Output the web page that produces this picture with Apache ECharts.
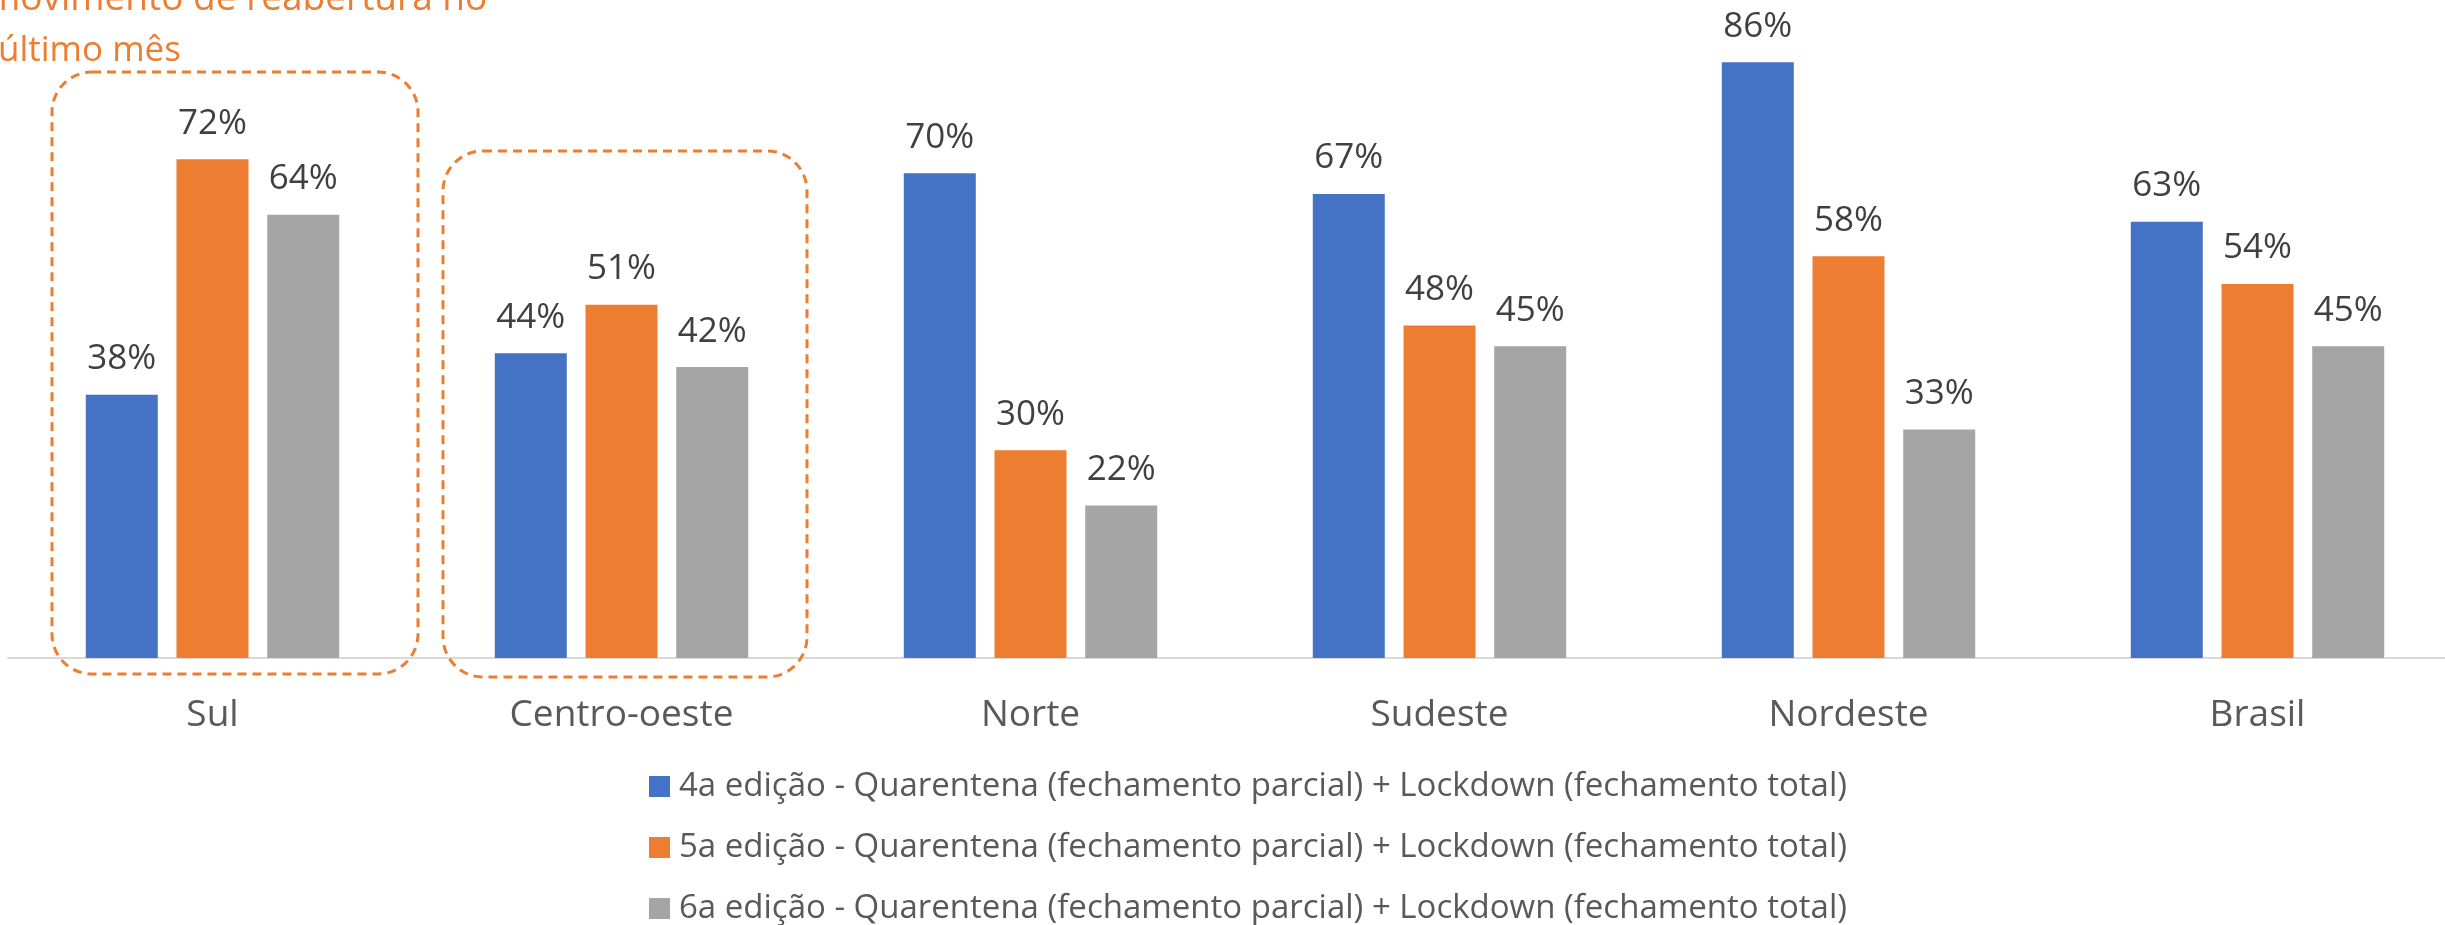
<!DOCTYPE html>
<html>
<head>
<meta charset="utf-8">
<script src="https://cdn.jsdelivr.net/npm/echarts@6/dist/echarts.min.js"></script>
<style>
	html, body { margin: 0; padding: 0; background: #fff; overflow: hidden; }
	#chart { width: 2462px; height: 925px; }
</style>
</head>
<body>
<div id="chart"></div>
<script>
const categories = ['Sul', 'Centro-oeste', 'Norte', 'Sudeste', 'Nordeste', 'Brasil']
const seriesNames = [
	'4a edição - Quarentena (fechamento parcial) + Lockdown (fechamento total)',
	'5a edição - Quarentena (fechamento parcial) + Lockdown (fechamento total)',
	'6a edição - Quarentena (fechamento parcial) + Lockdown (fechamento total)',
]
const edicao4 = [38, 44, 70, 67, 86, 63]
const edicao5 = [72, 51, 30, 48, 58, 54]
const edicao6 = [64, 42, 22, 45, 33, 45]
const colors = ['#4472C4', '#ED7D31', '#A5A5A5']

const FONT = "'Open Sans', sans-serif"

drawChart = () => {
	var chart = echarts.init(document.getElementById('chart'))

	// one bar series per edition
	const series = [edicao4, edicao5, edicao6].map((values, i) => {
		return {
			name: seriesNames[i],
			type: 'bar',
			data: values,
			barWidth: 72,
			barGap: '26%',
			itemStyle: { color: colors[i] },
			label: {
				show: true,
				position: 'top',
				distance: 18,
				formatter: '{c}%',
				color: '#404040',
				fontSize: 35,
				fontFamily: FONT,
			},
		}
	})

	// dashed boxes around Sul and Centro-oeste
	const box = (x, y, w, h) => {
		return {
			type: 'rect',
			z: 10,
			shape: { x: x, y: y, width: w, height: h, r: 40 },
			style: { fill: 'none', stroke: '#ED7D31', lineWidth: 3, lineDash: [9, 6] },
		}
	}

	const option = {
		animation: false,
		backgroundColor: '#fff',
		// the plot runs a little past the right edge of the window
		grid: { left: 8, right: 0, top: 0, bottom: 267 },
		xAxis: {
			type: 'category',
			data: categories,
			axisLine: { lineStyle: { color: '#D9D9D9', width: 2 } },
			axisTick: { show: false },
			axisLabel: { color: '#595959', fontSize: 37, fontFamily: FONT, margin: 39 },
		},
		yAxis: {
			type: 'value',
			min: 0,
			max: 95,
			show: false,
		},
		legend: {
			orient: 'vertical',
			left: 644,
			top: 765,
			height: 200,
			itemWidth: 21,
			itemHeight: 21,
			itemGap: 28,
			icon: 'rect',
			textStyle: { color: '#595959', fontSize: 33, fontFamily: FONT, lineHeight: 30, padding: [0, 0, 0, 4] },
			data: seriesNames,
		},
		graphic: [
			box(52, 72, 366, 602),
			box(443, 151, 364, 526),
			{
				type: 'text',
				left: -14,
				top: -19,
				style: { text: 'movimento de reabertura no', font: '37px ' + FONT, fill: '#ED7D31' },
			},
			{
				type: 'text',
				left: -2,
				top: 34,
				style: { text: 'último mês', font: '35px ' + FONT, fill: '#ED7D31' },
			},
		],
		series: series,
	}

	chart.setOption(option)
}

drawChart()
</script>
</body>
</html>
